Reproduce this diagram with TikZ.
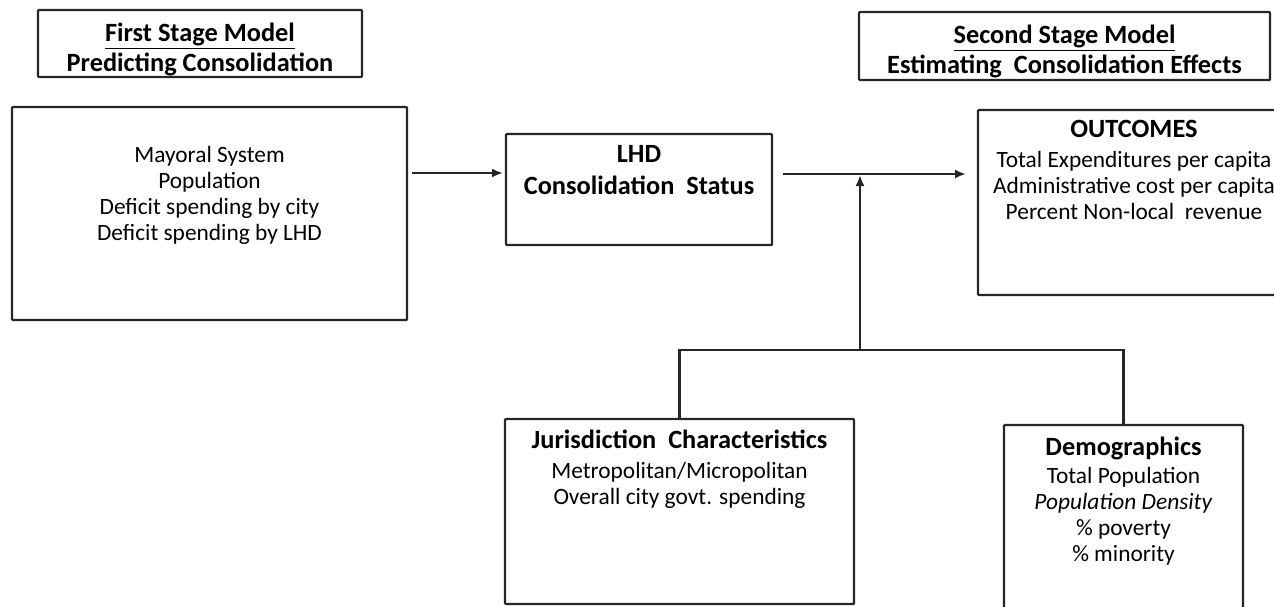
\documentclass[tikz,border=0pt]{standalone}
\usepackage{fontspec}
\setmainfont{Carlito}
\usetikzlibrary{positioning,arrows.meta}

\tikzset{
    box/.style={draw=black!85, line width=1.3pt, rounded corners=0.5pt,
        inner sep=0pt, outer sep=0pt},
    txt/.style={align=center, inner sep=0pt, font=\fontsize{13.3}{14.8}\selectfont},
    head/.style={align=center, inner sep=0pt, font=\bfseries\fontsize{15}{17}\selectfont},
    line/.style={draw=black!85, line width=1.3pt},
    arr/.style={line, -{Latex[length=2.2mm,width=1.8mm]}},
}

\begin{document}
\begin{tikzpicture}[x=0.02cm, y=-0.02cm]
    \clip (0,0) rectangle (1274,606);
    % title boxes
    \node[box, minimum width=324*0.02cm, minimum height=67*0.02cm] (stageone) at (200,43.5) {};
    \node[head, below=0.26cm of stageone.north] (stageonetxt)
        {\underline{First Stage Model}\\Predicting Consolidation};
    \node[box, minimum width=411*0.02cm, minimum height=68*0.02cm] (stagetwo) at (1064.5,46) {};
    \node[head, below=0.26cm of stagetwo.north] (stagetwotxt)
        {\underline{Second Stage Model}\\Estimating\ \ Consolidation Effects};
    % model boxes
    \node[box, minimum width=395*0.02cm, minimum height=213*0.02cm] (first) at (209.5,213.5) {};
    \node[txt, below=0.78cm of first.north] (firsttxt)
        {Mayoral System\\Population\\Deficit spending by city\\Deficit spending by LHD};
    \node[box, minimum width=266*0.02cm, minimum height=111*0.02cm] (lhd) at (639,189.5) {};
    \node[head, font=\bfseries\fontsize{15}{18}\selectfont, below=0.22cm of lhd.north] (lhdtxt)
        {LHD\\Consolidation\ \ Status};
    \node[box, minimum width=312*0.02cm, minimum height=185*0.02cm] (outcomes) at (1134,202.5) {};
    \node[txt, below=0.2cm of outcomes.north] (outcomestxt)
        {{\bfseries\fontsize{15}{17}\selectfont OUTCOMES}\\[2pt]Total Expenditures per capita\\
         Administrative cost per capita\\Percent Non-local\ \ revenue};
    \node[box, minimum width=349*0.02cm, minimum height=185*0.02cm] (juris) at (679.5,511.5) {};
    \node[txt, below=0.22cm of juris.north] (juristxt)
        {{\bfseries\fontsize{15}{17}\selectfont Jurisdiction\ \ Characteristics}\\[2pt]
         Metropolitan/Micropolitan\\Overall city govt. spending};
    \node[box, minimum width=239*0.02cm, minimum height=225*0.02cm] (demog) at (1123.5,537.5) {};
    \node[txt, below=0.24cm of demog.north] (demogtxt)
        {{\bfseries\fontsize{15}{17}\selectfont Demographics}\\[1pt]Total Population\\
         \textit{Population Density}\\\% poverty\\\% minority};
    % connectors
    \coordinate (lhdin) at ([yshift=0.33cm]lhd.west);
    \coordinate (lhdout) at ([yshift=0.31cm]lhd.east);
    \coordinate (join) at (860,350);
    \draw[arr, shorten <=0.1cm, shorten >=0.06cm] (first.east |- lhdin) -- (lhdin);
    \draw[arr, shorten <=0.22cm, shorten >=0.24cm] (lhdout) -- (outcomes.west |- lhdout);
    \draw[arr, shorten >=0.02cm] (join) -- (join |- lhdout);
    \draw[line] (juris.north) |- (join) -| (demog.north);
\end{tikzpicture}
\end{document}
